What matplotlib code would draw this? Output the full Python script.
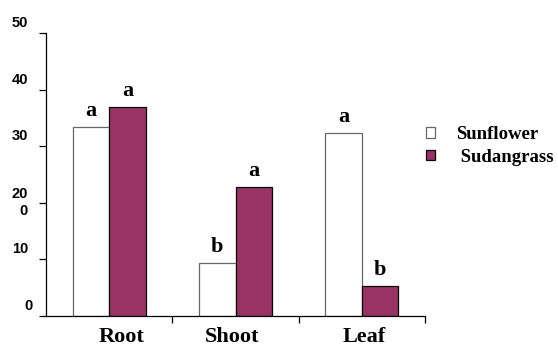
import matplotlib
matplotlib.use("Agg")
import matplotlib.pyplot as plt
import matplotlib.transforms as mtransforms
import numpy as np

# data
categories = ["Root", "Shoot", "Leaf"]
sunflower = [33.4, 9.3, 32.4]
sudangrass = [36.9, 22.8, 5.3]
sunflower_letters = ["a", "b", "a"]
sudangrass_letters = ["a", "a", "b"]
ytick_values = [0, 10, 20, 30, 40, 50]
ytick_labels = ["0", "10", "20\n0", "30", "40", "50"]

# layout
W, H, DPI = 558, 347, 100
serif = "Liberation Serif"
sans = "Liberation Sans"
bar_w = 0.29
label_nudge = [0.1, -0.03, 0.02]
ytick_dx = [-13, -18, -18, -18, -18, -18]   # px, right edge of the label

fig = plt.figure(figsize=(W / DPI, H / DPI), dpi=DPI)
ax = fig.add_axes([46 / W, 1 - 316 / H, (425 - 46) / W, (316 - 33) / H])

x = np.arange(len(categories))
b1 = ax.bar(x - bar_w / 2, sunflower, bar_w, color="white",
            edgecolor="#666666", linewidth=0.9, label="Sunflower")
b2 = ax.bar(x + bar_w / 2, sudangrass, bar_w, color="#993366",
            edgecolor="black", linewidth=0.9, label=" Sudangrass")

# significance letters
up = mtransforms.offset_copy(ax.transData, fig, y=6, units="dots")
for xi, v, t in zip(x - bar_w / 2, sunflower, sunflower_letters):
    ax.text(xi, v, t, transform=up, ha="center", va="bottom",
            fontsize=16, fontweight="bold", family=serif)
for xi, v, t in zip(x + bar_w / 2, sudangrass, sudangrass_letters):
    ax.text(xi, v, t, transform=up, ha="center", va="bottom",
            fontsize=16, fontweight="bold", family=serif)

ax.set_xlim(-0.5, 2.5)
ax.set_ylim(0, 50)

for s in ["top", "right"]:
    ax.spines[s].set_visible(False)
for s in ["left", "bottom"]:
    ax.spines[s].set_linewidth(0.9)

# y ticks, labels drawn by hand (shifted up like the original)
ax.set_yticks(ytick_values)
ax.set_yticklabels([])
ax.tick_params(axis="y", direction="out", length=5, width=0.9)
ytrans = mtransforms.blended_transform_factory(ax.transAxes, ax.transData)
for v, lab, dx in zip(ytick_values, ytick_labels, ytick_dx):
    dy = 0 if "\n" in lab else 10
    tr = mtransforms.offset_copy(ytrans, fig, x=dx, y=dy, units="dots")
    ax.text(0, v, lab, transform=tr, ha="right", va="center", fontsize=10.5,
            fontweight="bold", family=sans, linespacing=1.25)

# x ticks at group boundaries
ax.set_xticks([0.5, 1.5, 2.5])
ax.set_xticklabels([])
ax.tick_params(axis="x", direction="out", length=5, width=0.9)
xtrans = mtransforms.blended_transform_factory(ax.transData, ax.transAxes)
xlab = mtransforms.offset_copy(xtrans, fig, y=-26, units="dots")
for xi, name, dx in zip(x, categories, label_nudge):
    ax.text(xi + dx, 0, name, transform=xlab, ha="center", va="baseline",
            fontsize=16, fontweight="bold", family=serif)

ax.legend(handles=[b1, b2], frameon=False, loc="center left",
          bbox_to_anchor=(417 / W, 1 - 146 / H), bbox_transform=fig.transFigure,
          borderpad=0, handlelength=0.47, handleheight=0.47, handletextpad=1.1,
          labelspacing=0.3, prop={"family": serif, "weight": "bold", "size": 13.5})

fig.savefig("out.png", dpi=DPI)
